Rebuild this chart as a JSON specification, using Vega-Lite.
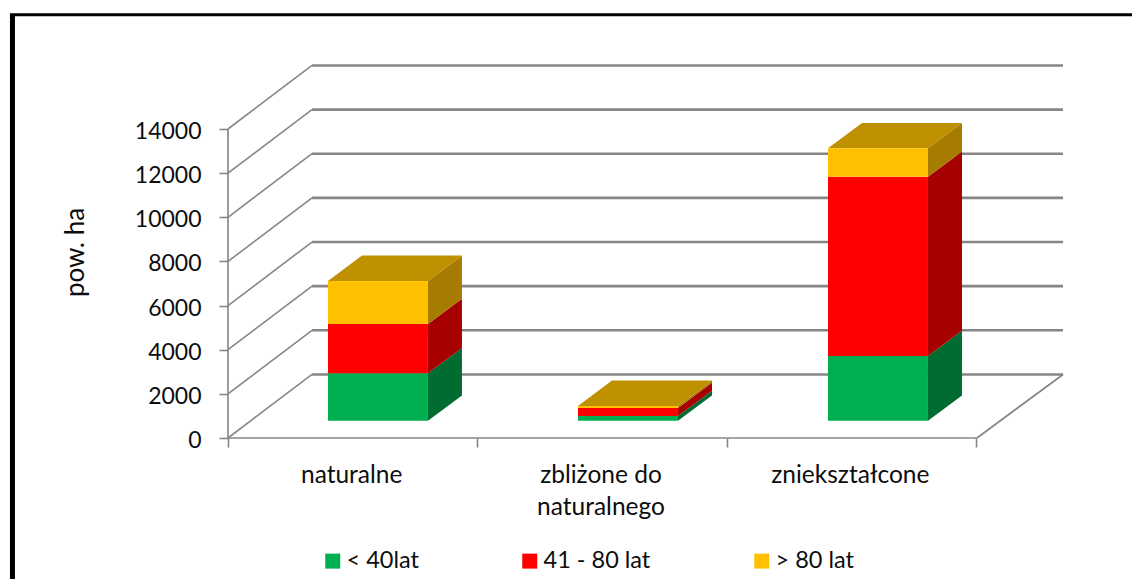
{
"$schema":"https://vega.github.io/schema/vega-lite/v6.json",
"width":1132,"height":579,"padding":0,"autosize":{"type":"none"},
"background":"white","config":{"view":{"stroke":null},"font":"Lato"},
"datasets":{
"bars":[
{"category":"naturalne","rank":1,"age":"< 40lat","value":2150},
{"category":"naturalne","rank":2,"age":"41 - 80 lat","value":2235},
{"category":"naturalne","rank":3,"age":"> 80 lat","value":1950},
{"category":"zbliżone do naturalnego","rank":1,"age":"< 40lat","value":210},
{"category":"zbliżone do naturalnego","rank":2,"age":"41 - 80 lat","value":360},
{"category":"zbliżone do naturalnego","rank":3,"age":"> 80 lat","value":100},
{"category":"zniekształcone","rank":1,"age":"< 40lat","value":2930},
{"category":"zniekształcone","rank":2,"age":"41 - 80 lat","value":8120},
{"category":"zniekształcone","rank":3,"age":"> 80 lat","value":1290}
],
"levels":[{"level":0},{"level":2000},{"level":4000},{"level":6000},{"level":8000},{"level":10000},{"level":12000},{"level":14000}]
},
"layer":[
{"data":{"name":"levels"},"transform":[{"calculate":"datum.level+2880","as":"back"}],
"mark":{"type":"rule","color":"#868686","strokeWidth":1.6},
"encoding":{
"x":{"datum":0,"type":"quantitative","scale":{"domain":[-0.9144,3.6257],"range":[0,1132],"nice":false,"zero":false},
"axis":{"orient":"bottom","offset":-141,"values":[0,0.5,1,1.5,2,2.5,3],"grid":false,"domain":false,"title":null,"tickColor":"#868686","tickWidth":1.6,"tickSize":9,
"tickOpacity":{"condition":{"test":"datum.value%1!=0","value":0},"value":1},
"labelExpr":"datum.value==0.5?'naturalne':datum.value==1.5?['zbliżone do','naturalnego']:datum.value==2.5?'zniekształcone':''",
"labelFont":"Lato","labelFontSize":24.5,"labelColor":"#0d0d0d","labelPadding":16,"labelLineHeight":32,"labelOverlap":false,"labelFlush":false,"labelBaseline":"top","labelOffset":-1.5}},
"x2":{"datum":0.337},
"y":{"field":"level","type":"quantitative","scale":{"domain":[-6388,19845],"range":[579,0],"nice":false,"zero":false},
"axis":{"orient":"left","offset":-228,"values":[0,2000,4000,6000,8000,10000,12000,14000],"format":"d","grid":false,"domain":false,"tickColor":"#868686","tickWidth":1.6,"tickSize":9,
"labelFont":"Lato","labelFontSize":23,"labelColor":"#0d0d0d","labelPadding":18,"labelOffset":2.5,
"title":"pow. ha","titleFont":"Lato","titleFontSize":26,"titleFontWeight":"normal","titleColor":"#0d0d0d","titleAngle":-90,"titleX":-153,"titleY":252,"titleAlign":"center","titleBaseline":"middle"}},
"y2":{"field":"back"}}},
{"data":{"name":"levels"},"transform":[{"calculate":"datum.level+2880","as":"back"}],
"mark":{"type":"rule","color":"#868686","strokeWidth":2.6},
"encoding":{"x":{"datum":0.337,"type":"quantitative"},"x2":{"datum":3.349},"y":{"field":"back","type":"quantitative"}}},
{"data":{"values":[{"level":0}]},
"mark":{"type":"rule","color":"#868686","strokeWidth":1.6},
"encoding":{"x":{"datum":0,"type":"quantitative"},"x2":{"datum":3.004},"y":{"field":"level","type":"quantitative"}}},
{"data":{"values":[{"level":0,"back":2880}]},
"mark":{"type":"rule","color":"#868686","strokeWidth":1.8},
"encoding":{"x":{"datum":3.004,"type":"quantitative"},"x2":{"datum":3.349},"y":{"field":"level","type":"quantitative"},"y2":{"field":"back"}}},
{"data":{"values":[{"level":0,"top":14000}]},
"mark":{"type":"rule","color":"#868686","strokeWidth":1.6},
"encoding":{"x":{"datum":0,"type":"quantitative"},"y":{"field":"level","type":"quantitative"},"y2":{"field":"top"}}},
{"data":{"values":[{"start":-2000,"end":30000}]},
"mark":{"type":"rule","color":"#000000","strokeWidth":5},
"encoding":{"x":{"datum":-0.8644,"type":"quantitative"},"y":{"datum":-7000,"type":"quantitative"},"y2":{"datum":19200}}},
{"data":{"values":[{"start":0}]},
"mark":{"type":"rule","color":"#000000","strokeWidth":3},
"encoding":{"x":{"datum":-0.8744,"type":"quantitative"},"x2":{"datum":3.6257},"y":{"datum":19180,"type":"quantitative"}}},
{"data":{"name":"bars"},
"transform":[
{"stack":"value","groupby":["category"],"sort":[{"field":"rank","order":"ascending"}],"as":["y0","y1"]},
{"calculate":"indexof(['naturalne','zbliżone do naturalnego','zniekształcone'],datum.category)","as":"idx"},
{"calculate":"[0,1]","as":"d"},{"flatten":["d"]},
{"calculate":"datum.idx*1.0027+0.802+datum.d*0.1364","as":"px"},
{"calculate":"datum.y0+784+datum.d*1146","as":"lo"},
{"calculate":"datum.y1+784+datum.d*1146","as":"hi"}],
"mark":{"type":"area","orient":"vertical"},
"encoding":{"x":{"field":"px","type":"quantitative"},"y":{"field":"lo","type":"quantitative","stack":null},"y2":{"field":"hi"},
"detail":{"field":"category"},
"color":{"field":"age","type":"nominal","legend":null,"scale":{"domain":["< 40lat","41 - 80 lat","> 80 lat"],"range":["#006C31","#A60000","#A67C00"]}}}},
{"data":{"name":"bars"},
"transform":[
{"stack":"value","groupby":["category"],"sort":[{"field":"rank","order":"ascending"}],"as":["y0","y1"]},
{"filter":"datum.rank==3"},
{"calculate":"indexof(['naturalne','zbliżone do naturalnego','zniekształcone'],datum.category)","as":"idx"},
{"calculate":"[0,1]","as":"d"},{"flatten":["d"]},
{"calculate":"datum.idx*1.0027+0.401+datum.d*0.1364","as":"pl"},
{"calculate":"datum.idx*1.0027+0.802+datum.d*0.1364","as":"pr"},
{"calculate":"datum.y1+784+datum.d*1146","as":"lev"}],
"mark":{"type":"area","orient":"horizontal","color":"#BF9000"},
"encoding":{"y":{"field":"lev","type":"quantitative","stack":null},"x":{"field":"pl","type":"quantitative"},"x2":{"field":"pr"},"detail":{"field":"category"}}},
{"data":{"name":"bars"},
"transform":[
{"stack":"value","groupby":["category"],"sort":[{"field":"rank","order":"ascending"}],"as":["y0","y1"]},
{"calculate":"indexof(['naturalne','zbliżone do naturalnego','zniekształcone'],datum.category)","as":"idx"},
{"calculate":"datum.idx*1.0027+0.401","as":"pl"},
{"calculate":"datum.idx*1.0027+0.802","as":"pr"},
{"calculate":"datum.y0+784","as":"lo"},
{"calculate":"datum.y1+784","as":"hi"}],
"mark":{"type":"rect"},
"encoding":{"x":{"field":"pl","type":"quantitative"},"x2":{"field":"pr"},"y":{"field":"lo","type":"quantitative","stack":null},"y2":{"field":"hi"},
"color":{"field":"age","type":"nominal","scale":{"domain":["< 40lat","41 - 80 lat","> 80 lat"],"range":["#00B050","#FF0000","#FFC000"]},
"legend":{"orient":"none","legendX":321,"legendY":549,"direction":"horizontal","columns":3,"columnPadding":99,"title":null,"symbolType":"square","symbolSize":225,"symbolStrokeWidth":0,"labelFont":"Lato","labelFontSize":23.5,"labelColor":"#0d0d0d","labelOffset":2}}}}
],
"resolve":{"scale":{"color":"independent"}}
}
